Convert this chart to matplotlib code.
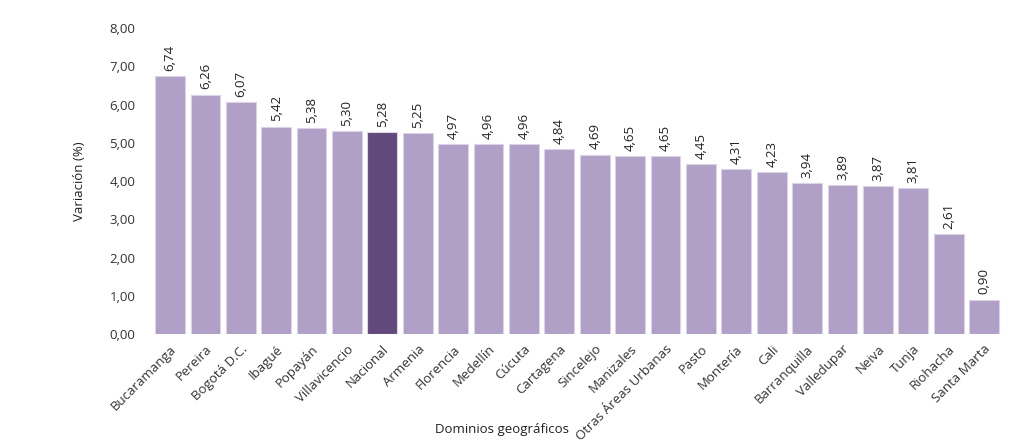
import matplotlib.pyplot as plt
from matplotlib.ticker import FuncFormatter

plt.rcParams['font.family'] = ['Open Sans', 'DejaVu Sans']

dominios = ['Bucaramanga', 'Pereira', 'Bogotá D.C.', 'Ibagué', 'Popayán', 'Villavicencio',
            'Nacional', 'Armenia', 'Florencia', 'Medellín', 'Cúcuta', 'Cartagena',
            'Sincelejo', 'Manizales', 'Otras Áreas Urbanas', 'Pasto', 'Montería', 'Cali',
            'Barranquilla', 'Valledupar', 'Neiva', 'Tunja', 'Riohacha', 'Santa Marta']
variacion = [6.74, 6.26, 6.07, 5.42, 5.38, 5.30, 5.28, 5.25, 4.97, 4.96, 4.96, 4.84,
             4.69, 4.65, 4.65, 4.45, 4.31, 4.23, 3.94, 3.89, 3.87, 3.81, 2.61, 0.90]

light = '#b09fc6'
dark = '#614a7b'
colors = [dark if d == 'Nacional' else light for d in dominios]

fig = plt.figure(figsize=(10.24, 4.45), dpi=100)
ax = fig.add_axes([0.147, 0.249, 0.833, 0.688])

x = range(len(dominios))
bars = ax.bar(x, variacion, width=0.84, color=colors, edgecolor='#ddd3e8', linewidth=0.8)

fmt = lambda v: f'{v:.2f}'.replace('.', ',')
for b, v in zip(bars, variacion):
    ax.text(b.get_x() + b.get_width() / 2, v + 0.14, fmt(v), rotation=90,
            ha='center', va='bottom', fontsize=9.5, color='#222222')

ax.set_xlim(-0.55, len(dominios) - 0.45)
ax.set_ylim(0, 8)
ax.set_yticks([0, 1, 2, 3, 4, 5, 6, 7, 8])
ax.yaxis.set_major_formatter(FuncFormatter(lambda v, p: fmt(v)))
ax.set_xticks(list(x))
ax.set_xticklabels(dominios, rotation=45, ha='right', rotation_mode='anchor')
ax.tick_params(axis='both', length=0, labelsize=9.5, colors='#333333')
ax.tick_params(axis='x', pad=6)
ax.tick_params(axis='y', pad=11)
for s in ax.spines.values():
    s.set_visible(False)

ax.set_ylabel('Variación (%)', fontsize=9.5, color='#222222', labelpad=17)
fig.text(0.49, 0.035, 'Dominios geográficos', ha='center', va='center', fontsize=9.5, color='#222222')

fig.savefig('out.png', dpi=100)
